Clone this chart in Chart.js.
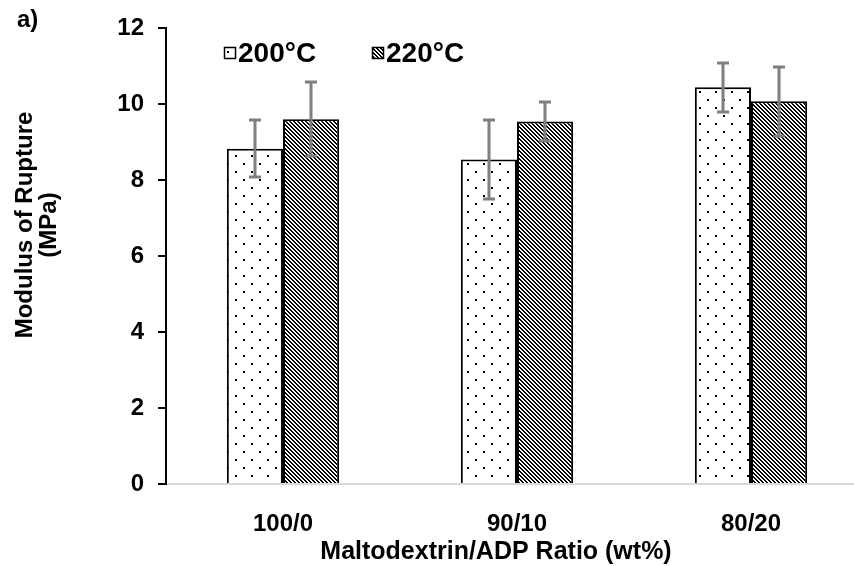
<!DOCTYPE html>
<html>
<head>
<meta charset="utf-8">
<script src="https://cdn.jsdelivr.net/npm/chart.js@4.4.1/dist/chart.umd.min.js"></script>
<style>
html, body { margin: 0; padding: 0; background: #fff; overflow: hidden; }
#wrap { position: relative; width: 870px; height: 566px; }
</style>
</head>
<body>
<div id="wrap"><canvas id="chart"></canvas></div>
<script>
const categories = ['100/0', '90/10', '80/20'];
const seriesNames = ['200°C', '220°C'];
const mor200 = [8.83, 8.55, 10.45];
const mor220 = [9.61, 9.55, 10.08];
const err200 = [0.75, 1.05, 0.65];
const err220 = [0.98, 0.51, 0.91];
const yTicks = [0, 2, 4, 6, 8, 10, 12];

const FONT = 'Liberation Sans, Arial, sans-serif';
const canvas = document.getElementById('chart');
const ctx = canvas.getContext('2d');

// sparse dot fill for 200°C
function dotPattern() {
	const c = document.createElement('canvas');
	c.width = 16; c.height = 16;
	const g = c.getContext('2d');
	g.fillStyle = '#fff';
	g.fillRect(0, 0, 16, 16);
	g.fillStyle = '#000';
	g.fillRect(3, 3, 2, 2);
	g.fillRect(11, 11, 2, 2);
	return ctx.createPattern(c, 'repeat');
}

// dense diagonal hatch for 220°C
function hatchPattern() {
	const c = document.createElement('canvas');
	c.width = 4; c.height = 4;
	const g = c.getContext('2d');
	g.fillStyle = '#fff';
	g.fillRect(0, 0, 4, 4);
	g.fillStyle = '#000';
	for (let i = 0; i < 4; i++) {
		g.fillRect(i, i, 1, 1);
		g.fillRect((i + 1) % 4, i, 1, 1);
	}
	return ctx.createPattern(c, 'repeat');
}

const fills = [dotPattern(), hatchPattern()];
const errs = [err200, err220];

const errorBars = {
	id: 'errorBars',
	afterDatasetsDraw(chart) {
		const { ctx, scales: { y } } = chart;
		ctx.save();
		ctx.strokeStyle = '#7f7f7f';
		ctx.lineWidth = 3;
		chart.data.datasets.forEach((ds, i) => {
			chart.getDatasetMeta(i).data.forEach((bar, j) => {
				const v = ds.data[j], e = errs[i][j];
				const top = Math.round(y.getPixelForValue(v + e));
				const bot = Math.round(y.getPixelForValue(v - e));
				const x = Math.round(bar.x);
				ctx.beginPath();
				ctx.moveTo(x, top); ctx.lineTo(x, bot);
				ctx.moveTo(x - 6, top); ctx.lineTo(x + 6, top);
				ctx.moveTo(x - 6, bot); ctx.lineTo(x + 6, bot);
				ctx.stroke();
			});
		});
		ctx.restore();
	}
};

const extraText = {
	id: 'extraText',
	afterDraw(chart) {
		const { ctx } = chart;
		ctx.save();
		ctx.fillStyle = '#000';
		ctx.font = 'bold 24px ' + FONT;
		ctx.textBaseline = 'middle';
		ctx.textAlign = 'left';
		ctx.fillText('a)', 17, 20);

		// legend inside the plot
		const items = [{ x: 224 }, { x: 372 }];
		items.forEach((it, i) => {
			ctx.fillStyle = fills[i];
			ctx.fillRect(it.x, 47, 12, 12);
			ctx.strokeStyle = '#000';
			ctx.lineWidth = 1.5;
			ctx.strokeRect(it.x + 0.5, 47.5, 11, 11);
			ctx.fillStyle = '#000';
			ctx.font = 'bold 28px ' + FONT;
			ctx.fillText(seriesNames[i], it.x + 14, 54);
		});

		// x title, sits a little left of the plot centre
		ctx.font = 'bold 25px ' + FONT;
		ctx.textAlign = 'center';
		ctx.fillText('Maltodextrin/ADP Ratio (wt%)', 496, 552);

		// two-line y title
		ctx.font = 'bold 24px ' + FONT;
		ctx.translate(0, 225);
		ctx.rotate(-Math.PI / 2);
		ctx.fillText('Modulus of Rupture', 0, 25);
		ctx.fillText('(MPa)', 0, 49);
		ctx.restore();
	}
};

const tickFont = { family: FONT, size: 24, weight: 'bold' };

new Chart(canvas, {
	type: 'bar',
	data: {
		labels: categories,
		datasets: [
			{ label: seriesNames[0], data: mor200, backgroundColor: fills[0], borderColor: '#000', borderWidth: 2 },
			{ label: seriesNames[1], data: mor220, backgroundColor: fills[1], borderColor: '#000', borderWidth: 2 },
		],
	},
	options: {
		responsive: true,
		maintainAspectRatio: false,
		animation: false,
		categoryPercentage: 0.48,
		barPercentage: 1.0,
		layout: { padding: { top: 28, right: 2, left: 0, bottom: 0 } },
		plugins: { legend: { display: false }, tooltip: { enabled: false } },
		scales: {
			x: {
				grid: { display: false, drawTicks: false },
				border: { color: '#d9d9d9', width: 2 },
				ticks: { color: '#000', font: tickFont, padding: 26 },
				afterFit(s) { s.height = 82; },
			},
			y: {
				min: 0,
				max: 12,
				afterBuildTicks(s) { s.ticks = yTicks.map(v => ({ value: v })); },
				grid: { drawOnChartArea: false, drawTicks: true, tickLength: 8, color: '#000', lineWidth: 2 },
				border: { color: '#000', width: 2 },
				ticks: { color: '#000', font: tickFont, padding: 14 },
				afterFit(s) { s.width = 166; },
			},
		},
	},
	plugins: [errorBars, extraText],
});
</script>
</body>
</html>
